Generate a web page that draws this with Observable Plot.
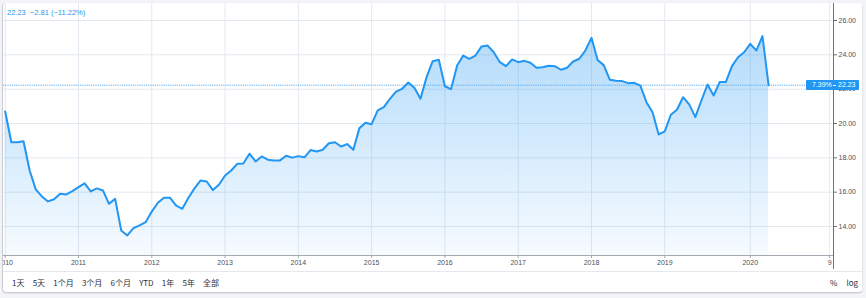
<!DOCTYPE html>
<html>
<head>
<meta charset="utf-8">
<script src="https://cdn.jsdelivr.net/npm/d3@7"></script>
<script src="https://cdn.jsdelivr.net/npm/@observablehq/plot@0.6"></script>
<style>
  html, body { margin: 0; padding: 0; background: #f3f4f7; }
  body { width: 866px; height: 298px; position: relative; overflow: hidden; font-family: "Liberation Sans", Arial, sans-serif; }
  #card { position: absolute; left: 3px; top: 3px; width: 859px; height: 289px; background: #fff;
          border-radius: 3px; box-shadow: 0 1px 2px rgba(0,0,0,0.22), -1px 0 0 #d5d8de; overflow: hidden; }
  #chart { position: absolute; left: 0; top: 0; }
  #legend { position: absolute; left: 4px; top: 5px; font-size: 7.5px; color: #2196f3; white-space: pre; }
  #price { position: absolute; left: 803px; width: 53px; height: 10px; background: #2196f3; color: #fff;
           font-size: 7px; line-height: 10px; border-radius: 1px; }
  #price .p { position: absolute; left: 6px; }
  #price .v { position: absolute; left: 32px; }
  #price .dash { position: absolute; left: 27px; top: 5px; width: 3px; height: 1px; background: #fff; }
  #toolbar { position: absolute; left: 0; top: 268px; width: 859px; height: 21px; border-top: 1px solid #e6e8ee;
             box-sizing: border-box; font-family: "Noto Sans CJK SC", "Noto Sans", sans-serif; font-size: 8px; color: #2a2e39; }
  #toolbar .left { position: absolute; left: 9px; top: 0; display: flex; gap: 8.2px; line-height: 21px; }
  #toolbar .right { position: absolute; left: 827px; top: 0; display: flex; gap: 9px; line-height: 21px; }
</style>
</head>
<body>
<div id="card">
  <div id="chart"></div>
  <div id="legend"></div>
  <div id="price"><span class="p"></span><span class="dash"></span><span class="v"></span></div>
  <div id="toolbar"><div class="left"></div><div class="right"></div></div>
</div>
<script>
// ---- data (one value per bar) ----
const v2010 = [20.70, 18.91, 18.91, 18.97, 17.26, 16.16, 15.75, 15.46, 15.59, 15.91, 15.87, 16.06];
const v2011 = [16.29, 16.51, 16.04, 16.22, 16.10, 15.32, 15.61, 13.77, 13.48, 13.90, 14.07, 14.25];
const v2012 = [14.87, 15.38, 15.67, 15.67, 15.21, 15.03, 15.67, 16.22, 16.68, 16.62, 16.12, 16.43];
const v2013 = [16.97, 17.26, 17.65, 17.67, 18.24, 17.79, 18.08, 17.89, 17.85, 17.85, 18.12, 18.01];
const v2014 = [18.10, 18.03, 18.45, 18.37, 18.47, 18.85, 18.91, 18.66, 18.80, 18.47, 19.73, 20.04];
const v2015 = [19.96, 20.76, 20.95, 21.44, 21.86, 22.02, 22.39, 22.08, 21.44, 22.70, 23.63, 23.71];
const v2016 = [22.17, 22.00, 23.38, 23.96, 23.77, 23.96, 24.49, 24.54, 24.15, 23.57, 23.34, 23.73];
const v2017 = [23.57, 23.65, 23.54, 23.25, 23.28, 23.36, 23.34, 23.13, 23.25, 23.61, 23.77, 24.25];
const v2018 = [24.99, 23.70, 23.40, 22.55, 22.49, 22.47, 22.35, 22.37, 22.21, 21.24, 20.66, 19.36];
const v2019 = [19.54, 20.51, 20.80, 21.53, 21.11, 20.37, 21.34, 22.27, 21.63, 22.41, 22.41, 23.34, 23.86, 24.15];
const v2020 = [24.64, 24.25, 25.09, 22.23];

const xTickLabels = ["2010","2011","2012","2013","2014","2015","2016","2017","2018","2019","2020","9"];
const xTickBars   = [0, 12, 24, 36, 48, 60, 72, 84, 96, 108, 122, 135];
const yTicks = [14, 16, 18, 20, 22, 24, 26];

const legendText = "22.23  \u22122.81 (\u221211.22%)";
const priceChange = "7.39%";
const lastPrice = 22.23;
const rangeButtons = ["1天","5天","1个月","3个月","6个月","YTD","1年","5年","全部"];
const rightButtons = ["%","log"];

// ---- build ----
const values = [].concat(v2010, v2011, v2012, v2013, v2014, v2015, v2016, v2017, v2018, v2019, v2020);
const data = values.map((v, i) => ({i, v}));
const xDomain = [-0.28, 135.63];
const yDomain = [12.31, 26.99];
const lineColor = "#2196f3";

const plot = Plot.plot({
  width: 859,
  height: 268,
  marginLeft: 0,
  marginRight: 29,
  marginTop: 0,
  marginBottom: 16,
  style: {fontFamily: "'Liberation Sans', Arial, sans-serif", fontSize: "7px", color: "#4c505b", background: "transparent", overflow: "visible"},
  x: {type: "linear", domain: xDomain},
  y: {type: "linear", domain: yDomain},
  marks: [
    Plot.gridY(yTicks, {stroke: "#e3e9f1", strokeOpacity: 1}),
    Plot.gridX(xTickBars, {stroke: "#e3e9f1", strokeOpacity: 1}),
    Plot.areaY(data, {x: "i", y1: () => yDomain[0], y2: "v", fill: "url(#fillGrad)", clip: true}),
    Plot.ruleY([lastPrice], {stroke: "#5aaaf0", strokeDasharray: "1.2,1", strokeWidth: 1}),
    Plot.lineY(data, {x: "i", y: "v", stroke: lineColor, strokeWidth: 2, strokeLinejoin: "round"}),
    Plot.ruleY([yDomain[0]], {stroke: "#a5a8b0", strokeWidth: 1}),
    Plot.ruleX([xDomain[1]], {stroke: "#6f727c", strokeWidth: 1, insetBottom: -14}),
    Plot.axisX({ticks: xTickBars, tickFormat: (d) => xTickLabels[xTickBars.indexOf(d)], tickSize: 3, tickPadding: 2, stroke: "#a5a8b0", fill: "#4c505b", label: null}),
    Plot.axisY({anchor: "right", ticks: yTicks, tickFormat: d3.format(".2f"), tickSize: 3, tickPadding: 2, stroke: "#6f727c", fill: "#4c505b", label: null})
  ]
});

const svg = plot.tagName.toLowerCase() === "svg" ? plot : plot.querySelector("svg");
const NS = "http://www.w3.org/2000/svg";
const defs = document.createElementNS(NS, "defs");
const grad = document.createElementNS(NS, "linearGradient");
grad.setAttribute("id", "fillGrad");
grad.setAttribute("x1", "0"); grad.setAttribute("y1", "0");
grad.setAttribute("x2", "0"); grad.setAttribute("y2", "1");
[[0, 0.34], [1, 0.04]].forEach(([o, a]) => {
  const s = document.createElementNS(NS, "stop");
  s.setAttribute("offset", o);
  s.setAttribute("stop-color", lineColor);
  s.setAttribute("stop-opacity", a);
  grad.appendChild(s);
});
defs.appendChild(grad);
svg.insertBefore(defs, svg.firstChild);
document.getElementById("chart").appendChild(plot);

document.getElementById("legend").textContent = legendText;
const py = plot.scale("y").apply(lastPrice);
const price = document.getElementById("price");
price.style.top = (py - 5) + "px";
price.querySelector(".p").textContent = priceChange;
price.querySelector(".v").textContent = lastPrice.toFixed(2);

const left = document.querySelector("#toolbar .left");
rangeButtons.forEach(t => { const s = document.createElement("span"); s.textContent = t; left.appendChild(s); });
const right = document.querySelector("#toolbar .right");
rightButtons.forEach(t => { const s = document.createElement("span"); s.textContent = t; right.appendChild(s); });
</script>
</body>
</html>
